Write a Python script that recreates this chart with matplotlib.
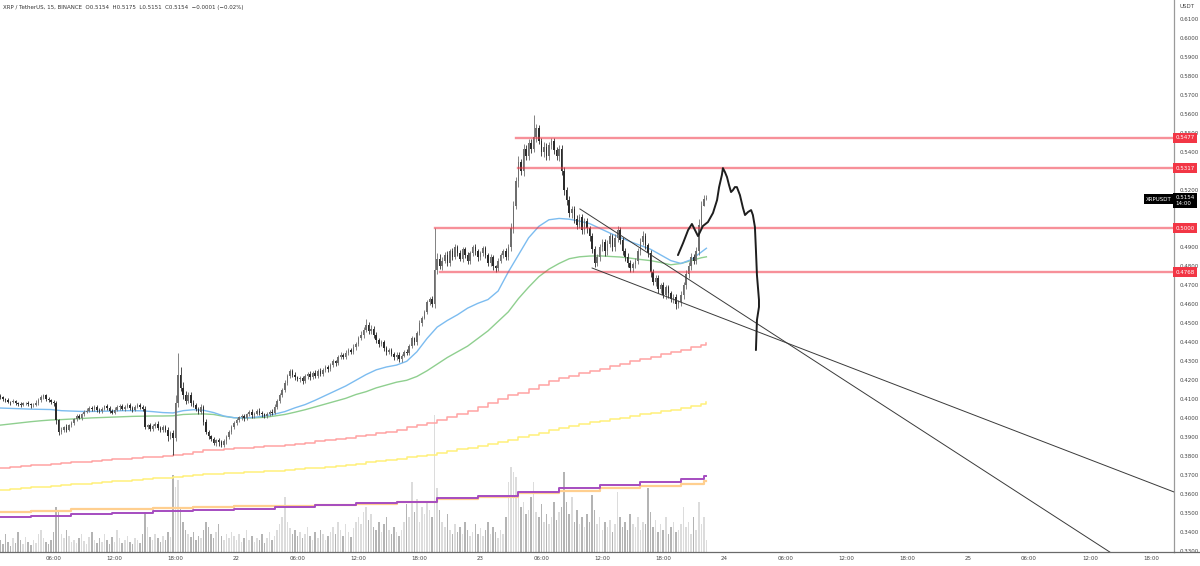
import numpy as np
import matplotlib
matplotlib.use("Agg")
import matplotlib.pyplot as plt

# ---- data (prices in 1e-4 USDT) ----
first_open = 4115
closes = [
    4110, 4102, 4095, 4088, 4084, 4090, 4080, 4074, 4070, 4078,
    4082, 4074, 4068, 4072, 4080, 4095, 4112, 4120, 4104, 4094,
    4085, 4078, 3990, 3928, 3938, 3952, 3940, 3962, 3975, 3995,
    4010, 4004, 4020, 4035, 4040, 4055, 4048, 4060, 4045, 4038,
    4050, 4062, 4055, 4040, 4030, 4045, 4058, 4065, 4050, 4060,
    4070, 4055, 4045, 4060, 4072, 4060, 4050, 3955, 3962, 3945,
    3960, 3972, 3950, 3938, 3955, 3940, 3905, 3925, 3895, 4080,
    4230, 4160, 4120, 4090, 4120, 4080, 4070, 4050, 4035, 4060,
    3980, 3930, 3905, 3890, 3870, 3885, 3875, 3860, 3880, 3900,
    3930, 3955, 3975, 3990, 4005, 4010, 4000, 4020, 4035, 4015,
    4025, 4040, 4030, 4020, 4010, 4025, 4035, 4030,
    4060, 4090, 4120, 4150, 4185, 4220, 4250, 4230, 4215, 4205,
    4210, 4195, 4220, 4235, 4215, 4240, 4225, 4250, 4235, 4255, 4270, 4260,
    4280, 4300, 4290, 4320, 4335, 4325, 4345, 4360, 4350, 4375, 4390, 4420, 4440, 4465, 4490, 4460,
    4470, 4440, 4410, 4390, 4400, 4370, 4350, 4360, 4340, 4320, 4335, 4310, 4330, 4350, 4345,
    4380, 4420, 4400, 4450, 4500, 4530, 4560, 4610, 4630, 4600,
    4780, 4840, 4800,
    4830, 4860, 4820, 4880, 4850, 4900, 4870, 4840, 4890, 4860,
    4830, 4870, 4900, 4880, 4850, 4870, 4895, 4860, 4820, 4850,
    4800, 4790, 4830, 4860, 4880, 4850, 4900,
    5000, 5120, 5250, 5350, 5300, 5420,
    5380, 5450, 5420, 5480, 5530, 5460, 5400, 5430, 5380, 5440, 5460, 5410, 5380, 5420,
    5300, 5200, 5150, 5080, 5100,
    5050, 5020, 5060, 4990, 5040, 5000, 4960,
    4890, 4820,
    4850, 4900, 4930, 4880, 4920, 4960, 4900, 4950, 4990, 4940, 4880, 4850, 4820,
    4790, 4810, 4830, 4880, 4930,
    4960, 4910, 4870,
    4770, 4720, 4740, 4680, 4700, 4650, 4690, 4660, 4630, 4640, 4600, 4610, 4650,
    4700, 4760, 4800, 4850, 4830, 4880, 5020,
    5120, 5154, 5154,
]
wick_up = [
    12, 8, 6, 10, 5, 9, 7, 6, 12, 8,
    6, 9, 7, 10, 14, 12, 10, 8, 6, 9,
    7, 10, 12, 8, 14, 9, 16, 10, 12, 8,
    10, 14, 9, 8, 12, 10, 7, 9, 11, 8,
    10, 9, 12, 7, 8, 14, 10, 8, 9, 12,
    10, 8, 9, 11, 7, 9, 8, 14, 10, 12,
    9, 8, 12, 10, 7, 9, 14, 10, 12, 40,
    114, 40, 30, 25, 20, 18, 15, 12, 10, 14,
    12, 15, 10, 9, 12, 8, 10, 9, 12, 10,
    8, 10, 12, 9, 7, 10, 14, 8, 9, 12,
    10, 8, 12, 7, 9, 10, 8, 12, 15, 10,
    14, 12, 18, 15, 12, 10, 14, 9, 12, 10,
    12, 9, 14, 10, 12, 9, 15, 10, 12, 9,
    10, 12, 9, 14, 12, 10, 15, 12, 10, 14,
    12, 15, 18, 14, 30, 16, 20, 14, 12, 15,
    10, 14, 12, 9, 12, 10, 14, 12, 9, 10,
    15, 12, 14, 10, 12, 15, 10, 12, 14, 10,
    12, 220, 30, 25, 20, 15, 18, 12, 14, 16,
    12, 18, 14, 10, 15, 12, 14, 16, 10, 12,
    14, 12, 10, 15, 12, 9, 14, 12, 10, 15,
    20, 30, 25, 20, 30, 15, 25, 20, 18, 22,
    116, 20, 15, 18, 25, 20, 15, 18, 14, 20,
    18, 20, 25, 15, 20, 18, 15, 20, 15, 18,
    14, 15, 12, 18, 15, 14, 20, 15, 12, 18,
    14, 12, 18, 20, 15, 12, 14, 18, 12, 15,
    14, 18, 20, 24, 15, 12, 14, 18, 12, 15,
    12, 15, 14, 10, 12, 15, 12, 14, 18, 15,
    20, 25, 18, 15, 20, 30, 25, 21, 21,
]
wick_dn = [
    8, 10, 7, 9, 12, 6, 10, 8, 9, 7,
    10, 8, 12, 9, 7, 10, 8, 9, 12, 10,
    9, 12, 20, 15, 12, 10, 14, 9, 8, 12,
    9, 8, 12, 10, 9, 8, 12, 10, 14, 9,
    12, 8, 10, 14, 9, 10, 8, 12, 9, 10,
    8, 12, 10, 9, 8, 12, 10, 14, 12, 10,
    12, 10, 14, 12, 10, 14, 25, 12, 88, 15,
    20, 15, 18, 14, 12, 15, 10, 12, 14, 10,
    15, 12, 14, 10, 12, 14, 20, 12, 10, 14,
    10, 12, 9, 12, 10, 14, 12, 10, 9, 12,
    12, 10, 14, 12, 9, 10, 12, 14, 10, 12,
    12, 10, 14, 12, 10, 14, 12, 10, 15, 12,
    10, 14, 12, 10, 15, 12, 14, 10, 12, 14,
    12, 10, 14, 12, 10, 14, 12, 10, 14, 12,
    14, 12, 10, 15, 12, 14, 15, 18, 12, 14,
    12, 15, 18, 12, 14, 15, 12, 14, 12, 10,
    12, 14, 10, 12, 15, 12, 14, 10, 12, 15,
    14, 20, 18, 15, 20, 14, 16, 18, 15, 14,
    16, 14, 18, 15, 20, 16, 14, 18, 20, 15,
    14, 16, 20, 18, 22, 20, 15, 14, 16, 18,
    15, 20, 25, 18, 30, 20, 25, 20, 18, 25,
    20, 25, 18, 20, 25, 20, 18, 22, 20, 18,
    25, 20, 22, 25, 20, 25, 20, 22, 18, 20,
    18, 22, 25, 20, 25, 18, 20, 22, 25, 18,
    20, 22, 18, 20, 25, 22, 20, 25, 22, 18,
    20, 18, 22, 20, 18, 20, 25, 20, 22, 18,
    20, 18, 22, 25, 20, 22, 25, 20, 18, 20,
    18, 20, 22, 20, 18, 20, 22, 3, 3,
]
volume = [
    12, 8, 18, 10, 6, 14, 9, 20, 12, 8,
    15, 10, 7, 12, 9, 18, 22, 14, 10, 8,
    12, 20, 45, 42, 18, 14, 22, 16, 10, 12,
    9, 14, 18, 11, 8, 15, 20, 12, 9, 14,
    10, 18, 12, 8, 15, 10, 22, 14, 9, 12,
    16, 10, 8, 14, 12, 9, 18, 40, 25, 15,
    12, 18, 14, 10, 16, 12, 20, 15, 77, 65,
    72, 45, 30, 22, 18, 15, 20, 12, 16, 14,
    22, 30, 25, 18, 14, 20, 28, 16, 12, 18,
    14, 20, 16, 12, 18, 10, 14, 22, 12, 16,
    10, 14, 12, 18, 9, 14, 20, 12, 16, 22,
    28, 35, 55, 30, 24, 18, 22, 16, 20, 14,
    18, 25, 16, 12, 20, 14, 22, 18, 12, 16,
    20, 25, 18, 30, 22, 16, 28, 20, 15, 24,
    30, 35, 28, 40, 45, 32, 38, 25, 22, 30,
    20, 28, 35, 22, 18, 25, 20, 16, 22, 30,
    48, 35, 70, 40, 53, 30, 45, 38, 50, 42,
    35, 137, 64, 42, 30, 25, 38, 22, 18, 28,
    20, 25, 18, 30, 22, 16, 20, 28, 18, 24,
    16, 22, 30, 18, 25, 20, 14, 22, 18, 35,
    70, 85, 80, 75, 60, 45, 50, 38, 42, 55,
    70, 40, 35, 48, 30, 38, 28, 35, 50, 32,
    40, 45, 80, 50, 38, 55, 30, 42, 28, 35,
    25, 38, 30, 57, 42, 28, 35, 22, 30, 25,
    32, 20, 28, 60, 35, 25, 30, 22, 38, 28,
    25, 35, 22, 30, 28, 64, 40, 25, 32, 20,
    28, 22, 35, 18, 25, 30, 20, 22, 28, 45,
    25, 30, 18, 35, 22, 50, 28, 35, 12,
]

# moving averages sampled hourly
ma_blue = [
    4054, 4052, 4050, 4048, 4047, 4046, 4040, 4038, 4036, 4036,
    4037, 4038, 4040, 4040, 4039, 4035, 4030, 4028, 4040, 4045,
    4042, 4030, 4012, 4003, 4002, 4005, 4012, 4022, 4035, 4055,
    4072, 4095, 4120, 4145, 4170, 4200, 4230, 4255, 4270, 4280,
    4300, 4350, 4420, 4480, 4515, 4545, 4580, 4605, 4625, 4670,
    4770, 4860, 4950, 5010, 5045, 5052, 5048, 5038, 5025, 5000,
    4975, 4952, 4930, 4910, 4890, 4860, 4830, 4815, 4835, 4875,
    4895,
]
ma_green = [
    3964, 3970, 3976, 3982, 3987, 3991, 3993, 3996, 3999, 4002,
    4004, 4006, 4008, 4010, 4011, 4012, 4012, 4013, 4020, 4022,
    4023, 4020, 4010, 4003, 4001, 4002, 4005, 4012, 4020, 4032,
    4045, 4060, 4075, 4090, 4105, 4125, 4140, 4160, 4175, 4190,
    4200, 4220, 4250, 4285, 4320, 4350, 4380, 4420, 4460, 4510,
    4560, 4630, 4690, 4745, 4785, 4815, 4840, 4850, 4854, 4855,
    4852, 4849, 4843, 4836, 4830, 4820, 4808, 4815, 4830, 4845,
    4850,
]
ma_pink = [
    3740, 3744, 3748, 3752, 3756, 3760, 3764, 3768, 3772, 3776,
    3780, 3784, 3788, 3792, 3795, 3798, 3801, 3805, 3810, 3825,
    3831, 3835, 3839, 3843, 3846, 3849, 3852, 3856, 3860, 3866,
    3872, 3880, 3886, 3892, 3898, 3905, 3912, 3920, 3928, 3940,
    3955, 3965, 3975, 3990, 4005, 4025, 4040, 4060, 4080, 4100,
    4120, 4135, 4155, 4175, 4195, 4210, 4225, 4238, 4250, 4262,
    4275, 4288, 4300, 4312, 4325, 4338, 4350, 4362, 4374, 4385,
    4398,
]
ma_yellow = [
    3624, 3628, 3632, 3636, 3640, 3644, 3648, 3652, 3656, 3660,
    3664, 3668, 3672, 3676, 3680, 3684, 3688, 3691, 3695, 3700,
    3704, 3707, 3710, 3713, 3716, 3719, 3722, 3725, 3728, 3732,
    3736, 3740, 3745, 3750, 3755, 3760, 3770, 3776, 3782, 3788,
    3794, 3800, 3808, 3816, 3826, 3836, 3846, 3856, 3866, 3876,
    3888, 3900, 3912, 3924, 3938, 3948, 3958, 3968, 3978, 3988,
    3996, 4004, 4012, 4020, 4028, 4036, 4044, 4052, 4062, 4075,
    4085,
]
# 4h moving averages
ma_purple = [3480, 3488, 3495, 3503, 3510, 3517, 3525, 3535, 3544, 3553,
             3561, 3579, 3591, 3614, 3632, 3649, 3663, 3681, 3698]
ma_orange = [3508, 3513, 3520, 3525, 3530, 3534, 3536, 3538, 3544, 3550,
             3557, 3574, 3584, 3605, 3617, 3632, 3644, 3654, 3672]

# drawings (bar index, price)
levels = [0.5477, 0.5317, 0.5000, 0.4768]
level_start = [203, 204, 171, 173]
trend1 = [(228.2, 0.5102), (310.9, 0.4386)]
trend2 = [(233.0, 0.4791), (462.1, 0.3612)]
brush_bar = [266.8, 268.8, 270.8, 272.3, 273.5, 274.7, 275.5, 276.6, 278.6, 280.6,
             282.2, 283.0, 284.1, 284.5, 285.3, 286.1, 286.9, 287.7, 288.5, 289.2,
             290.0, 291.2, 292.4, 293.2, 294.4, 295.6, 296.3, 297.1, 297.5, 297.9,
             298.7, 298.7, 297.9, 297.5]
brush_price = [0.4859, 0.4922, 0.4991, 0.5023, 0.4991, 0.4959, 0.4981, 0.5012, 0.5033, 0.5081,
               0.5149, 0.5217, 0.5281, 0.5317, 0.5296, 0.5270, 0.5228, 0.5191, 0.5202, 0.5217,
               0.5217, 0.5175, 0.5107, 0.5070, 0.5086, 0.5096, 0.5070, 0.5007, 0.4886, 0.4754,
               0.4623, 0.4586, 0.4517, 0.4359]

tick_hours = [6, 12, 18, 24, 30, 36, 42, 48, 54, 60, 66, 72, 78, 84, 90, 96, 102, 108, 114]
tick_labels = ['06:00', '12:00', '18:00', '22', '06:00', '12:00', '18:00', '23', '06:00',
               '12:00', '18:00', '24', '06:00', '12:00', '18:00', '25', '06:00', '12:00', '18:00']

# ---- derived ----
c = np.array(closes) / 1e4
o = np.r_[first_open / 1e4, c[:-1]]
hi = np.maximum(o, c) + np.array(wick_up) / 1e4
lo = np.minimum(o, c) - np.array(wick_dn) / 1e4
n = len(c)
x = np.arange(n)
up = c >= o

W, H = 1200, 566
fig = plt.figure(figsize=(W / 100, H / 100), dpi=100)
fig.patch.set_facecolor('white')
ax = fig.add_axes([0, 14 / H, 1174 / W, 552 / H])
axv = ax.twinx()
ax.set_zorder(axv.get_zorder() + 1)
ax.patch.set_visible(False)

# volume
vol_col = np.where(up, '#dcdcdc', '#b4b4b4')
axv.bar(x, volume, width=0.6, color=vol_col, linewidth=0)
axv.set_ylim(0, 552)
axv.axis('off')

# MAs
ma_x = list(range(0, n - 1, 4)) + [n - 1]
ax.plot(ma_x, np.array(ma_yellow) / 1e4, color='#fff07a', lw=1.1, drawstyle='steps-post')
ax.plot(ma_x, np.array(ma_pink) / 1e4, color='#ffa3a3', lw=1.1, drawstyle='steps-post')
step_x = [0] + list(range(12, n - 10, 16)) + [n - 2, n - 1]
ax.plot(step_x, np.r_[ma_orange, ma_orange[-1]] / 1e4, color='#ffcf8f', lw=1.6, drawstyle='steps-post')
ax.plot(step_x, np.r_[ma_purple, ma_purple[-1]] / 1e4, color='#a54cc0', lw=1.4, drawstyle='steps-post')
ax.plot(ma_x, np.array(ma_green) / 1e4, color='#8fcf8f', lw=1.0)
ax.plot(ma_x, np.array(ma_blue) / 1e4, color='#7cbcf0', lw=1.0)

# candles
col = np.where(up, '#6e6e6e', '#2b2b2b')
ax.vlines(x, lo, hi, colors=col, lw=0.6, zorder=3)
body = np.maximum(np.abs(c - o), 0.0003)
ax.bar(x, body, bottom=np.minimum(o, c), width=0.6, color=col, linewidth=0, zorder=3)

# drawings
xr = 462.1
for lv, st in zip(levels, level_start):
    ax.plot([st, xr], [lv, lv], color='#f23645', alpha=0.55, lw=1.7, zorder=4)
for (x1, y1), (x2, y2) in (trend1, trend2):
    slope = (y2 - y1) / (x2 - x1)
    ax.plot([x1, 470], [y1, y1 + slope * (470 - x1)], color='#3a3a3a', lw=0.7, zorder=4)
ax.plot(brush_bar, brush_price, color='#1e1e1e', lw=1.4, zorder=5,
        solid_joinstyle='round', solid_capstyle='round')

ax.set_xlim(-0.12, xr)
ax.set_ylim(0.3296, 0.6202)

# axes styling
for s in ['top', 'left']:
    ax.spines[s].set_visible(False)
ax.spines['right'].set_color('#9a9a9a')
ax.spines['bottom'].set_color('#6a6a6a')
ax.spines['right'].set_linewidth(0.9)
ax.spines['bottom'].set_linewidth(0.9)
ax.yaxis.tick_right()
# price ticks, without the ones hidden under the level labels
yt = [v for v in np.round(np.arange(0.33, 0.6101, 0.01), 2) if v not in (0.50, 0.53, 0.51)]
ax.set_yticks(yt)
ax.set_yticklabels([f'{v:.4f}' for v in yt])
ax.tick_params(axis='y', length=0, pad=4, labelsize=4, labelcolor='#444444')
ax.set_xticks([(t - 0.75) * 4 for t in tick_hours])
ax.set_xticklabels(tick_labels)
ax.tick_params(axis='x', length=0, pad=3, labelsize=4, labelcolor='#444444')

ytr = ax.get_yaxis_transform()
for lv in levels:
    ax.text(1.0 + 1.5 / 1174, lv, f'{lv:.4f}', transform=ytr, ha='left', va='center',
            fontsize=4, color='white', zorder=10, clip_on=False,
            bbox=dict(boxstyle='square,pad=0.45', fc='#f23645', ec='none'))
ax.text(1.0 + 1.5 / 1174, 0.5146, '0.5154\n14:00', transform=ytr, ha='left', va='center',
        fontsize=4, color='white', zorder=10, clip_on=False, linespacing=1.1,
        bbox=dict(boxstyle='square,pad=0.45', fc='black', ec='none'))
ax.text(1.0 - 2 / 1174, 0.5154, 'XRPUSDT', transform=ytr, ha='right', va='center',
        fontsize=4, color='white', zorder=10, clip_on=False,
        bbox=dict(boxstyle='square,pad=0.45', fc='black', ec='none'))

fig.text(1179 / W, 1 - 6 / H, 'USDT', fontsize=4, color='#444444', ha='left', va='center')
fig.text(3 / W, 1 - 7 / H,
         'XRP / TetherUS, 15, BINANCE  O0.5154  H0.5175  L0.5151  C0.5154  \u22120.0001 (\u22120.02%)',
         fontsize=4, color='#333333', ha='left', va='center')
fig.add_artist(plt.Line2D([1174 / W, 1], [14 / H, 14 / H], color='#6a6a6a', lw=0.9))

fig.savefig('out.png', dpi=100)
